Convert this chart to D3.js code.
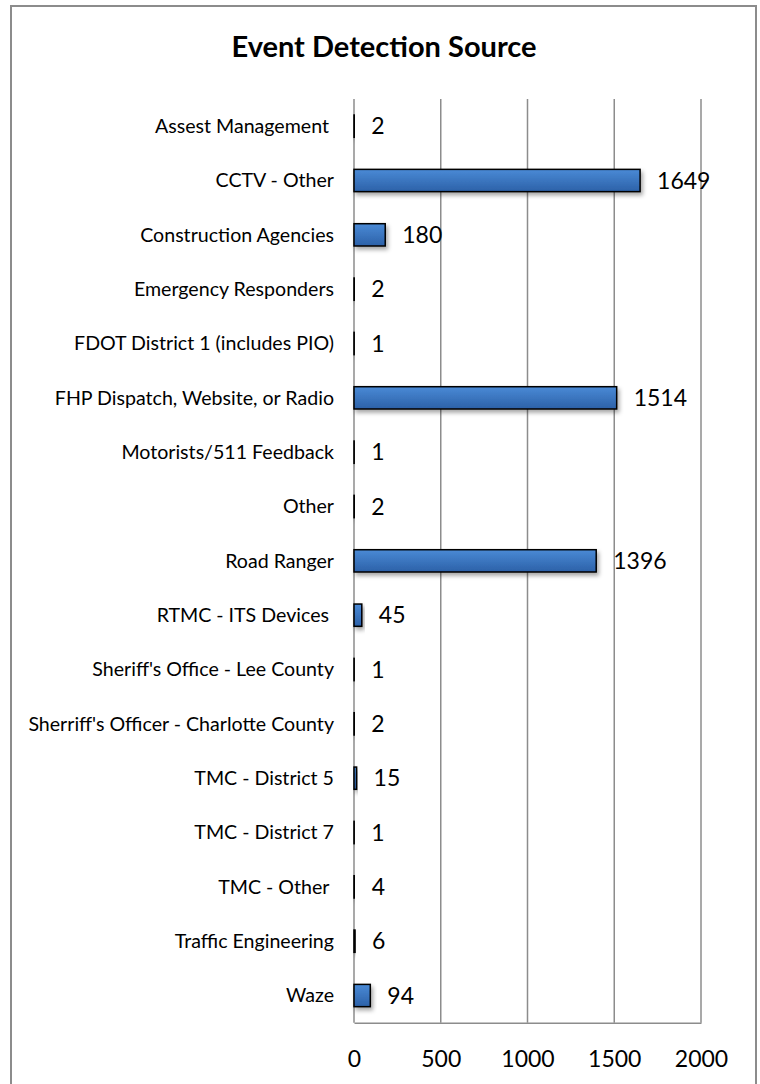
<!DOCTYPE html>
<html><head><meta charset="utf-8">
<script src="https://cdn.jsdelivr.net/npm/d3@7"></script>
<style>
html,body{margin:0;padding:0;background:#fff;}
svg text{font-family:Lato,"Open Sans",sans-serif;white-space:pre;}
</style></head>
<body>
<svg id="chart" width="760" height="1084"></svg>
<script>
const title = "Event Detection Source";
const categories = [
  "Assest Management ",
  "CCTV - Other",
  "Construction Agencies",
  "Emergency Responders",
  "FDOT District 1 (includes PIO)",
  "FHP Dispatch, Website, or Radio",
  "Motorists/511 Feedback",
  "Other",
  "Road Ranger",
  "RTMC - ITS Devices ",
  "Sheriff's Office - Lee County",
  "Sherriff's Officer - Charlotte County",
  "TMC - District 5",
  "TMC - District 7",
  "TMC - Other ",
  "Traffic Engineering",
  "Waze"
];
const values = [2, 1649, 180, 2, 1, 1514, 1, 2, 1396, 45, 1, 2, 15, 1, 4, 6, 94];
const tickValues = [0, 500, 1000, 1500, 2000];

const svg = d3.select("#chart");
const defs = svg.append("defs");
const grad = defs.append("linearGradient").attr("id","barGrad").attr("x1",0).attr("y1",0).attr("x2",0).attr("y2",1);
grad.append("stop").attr("offset","0%").attr("stop-color","#4a8ad6");
grad.append("stop").attr("offset","100%").attr("stop-color","#2c61a8");
const sh = defs.append("filter").attr("id","shadow").attr("x","-20%").attr("y","-50%").attr("width","160%").attr("height","250%");
sh.append("feDropShadow").attr("dx",2).attr("dy",3).attr("stdDeviation",2).attr("flood-color","#000").attr("flood-opacity",0.35);

// frame
svg.append("rect").attr("x",11).attr("y",6).attr("width",745).attr("height",1100)
  .attr("fill","#fff").attr("stroke","#8c8c8c").attr("stroke-width",2);

svg.append("text").attr("x",384).attr("y",57).attr("text-anchor","middle")
  .attr("font-size",29).attr("font-weight","bold").attr("fill","#000").text(title);

const x = d3.scaleLinear().domain([0,2000]).range([354,701]);
const y = d3.scaleBand().domain(categories).range([99,1022.7]).paddingInner(0.59).paddingOuter(0.295);

// gridlines
svg.append("g").selectAll("line").data(tickValues).join("line")
  .attr("x1",d=>x(d)).attr("x2",d=>x(d)).attr("y1",99).attr("y2",1022.7)
  .attr("stroke","#8c8c8c").attr("stroke-width",1.5);

// x axis
const xAxis = d3.axisBottom(x).tickValues(tickValues).tickSize(0).tickPadding(0).tickFormat(d3.format("d"));
const gx = svg.append("g").attr("transform","translate(0,1022.7)").call(xAxis);
gx.select(".domain").attr("stroke","#8c8c8c").attr("stroke-width",1.5);
gx.selectAll("text").attr("font-size",23).attr("fill","#000").attr("dy",0).attr("y",44).attr("font-family","Lato");

// y axis labels
const yAxis = d3.axisLeft(y).tickSize(0).tickPadding(20);
const gy = svg.append("g").attr("transform","translate(354,0)").call(yAxis);
gy.select(".domain").remove();
gy.selectAll("text").attr("font-size",19.6).attr("fill","#000").attr("font-family","Lato").attr("dy","0.34em");

// bars
svg.append("g").selectAll("rect").data(values).join("rect")
  .attr("x",x(0)).attr("y",(d,i)=>y(categories[i]))
  .attr("width",d=>x(d)-x(0)).attr("height",y.bandwidth())
  .attr("fill","url(#barGrad)").attr("stroke","#000").attr("stroke-width",1.5)
  .attr("filter","url(#shadow)");

// value labels
svg.append("g").selectAll("text").data(values).join("text")
  .attr("x",d=>x(d)+17).attr("y",(d,i)=>y(categories[i])+y.bandwidth()/2)
  .attr("dy","0.36em").attr("font-size",23).attr("fill","#000").text(d=>d);
</script>
</body></html>
